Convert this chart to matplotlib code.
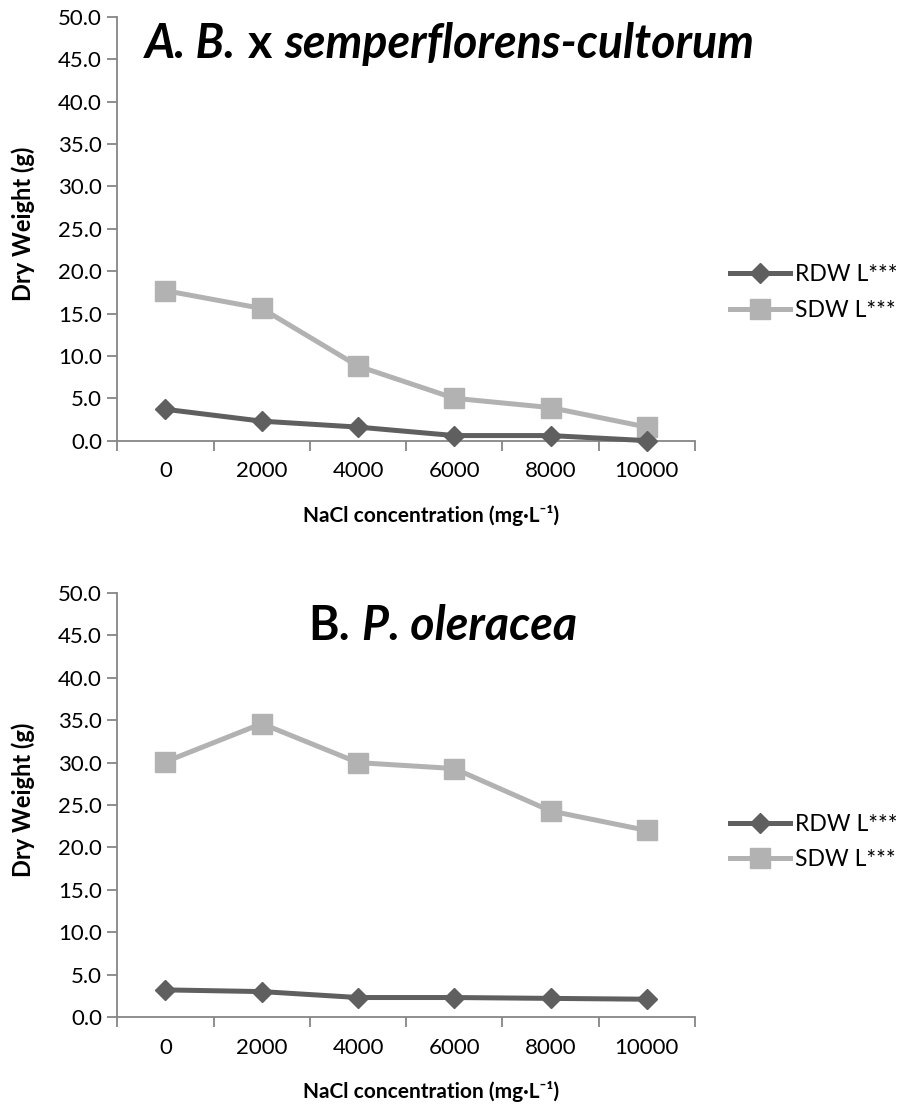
import matplotlib
matplotlib.use("Agg")
import matplotlib.pyplot as plt

plt.rcParams['font.family'] = ['Lato', 'DejaVu Sans']

categories = ['0', '2000', '4000', '6000', '8000', '10000']
rdw_a = [3.7, 2.3, 1.6, 0.6, 0.6, 0.0]
sdw_a = [17.7, 15.6, 8.8, 5.0, 3.9, 1.6]
rdw_b = [3.2, 3.0, 2.3, 2.3, 2.2, 2.1]
sdw_b = [30.1, 34.6, 30.0, 29.3, 24.3, 22.0]
yticks = [0, 5, 10, 15, 20, 25, 30, 35, 40, 45, 50]
legend_labels = ['RDW L***', 'SDW L***']
xlabel = 'NaCl concentration (mg·L⁻¹)'
ylabel = 'Dry Weight (g)'

W, H = 906, 1108
fig = plt.figure(figsize=(W / 100, H / 100), dpi=100)
renderer = fig.canvas.get_renderer()

spine_c = '#868686'
rdw_c = '#5f5f5f'
sdw_c = '#b2b2b2'
TITLE_FS = 33.5


def title_pieces(parts, x0, y0):
    xpx = x0 * W
    gap = 0.26 * TITLE_FS * 100 / 72
    for txt, style, wt in parts:
        t = fig.text(xpx / W, y0, txt, fontsize=TITLE_FS, fontweight=wt, fontstyle=style,
                     ha='left', va='baseline')
        bb = t.get_window_extent(renderer)
        xpx = bb.x1 + gap


def make_axes(rect, rdw, sdw, leg_y):
    ax = fig.add_axes(rect)
    x = list(range(len(categories)))
    l1, = ax.plot(x, rdw, color=rdw_c, lw=3.6, marker='D', ms=10, mec=rdw_c, mfc=rdw_c, zorder=3,
                  solid_joinstyle='round', clip_on=False)
    l2, = ax.plot(x, sdw, color=sdw_c, lw=3.6, marker='s', ms=14, mec=sdw_c, mfc=sdw_c, zorder=2,
                  solid_joinstyle='round', clip_on=False)
    ax.set_xlim(-0.5, len(categories) - 0.5)
    ax.set_ylim(0, 50)
    ax.set_yticks(yticks)
    ax.set_yticklabels([f'{v:.1f}' for v in yticks])
    ax.set_xticks(x)
    ax.set_xticklabels(categories)
    ax.set_xticks([i - 0.5 for i in range(len(categories) + 1)], minor=True)
    ax.tick_params(axis='x', which='major', length=0, pad=15, labelsize=16)
    ax.tick_params(axis='x', which='minor', length=7, width=1.3, color=spine_c, direction='out')
    ax.tick_params(axis='y', length=7, width=1.3, color=spine_c, labelsize=16, pad=4)
    for s in ['top', 'right']:
        ax.spines[s].set_visible(False)
    for s in ['left', 'bottom']:
        ax.spines[s].set_color(spine_c)
        ax.spines[s].set_linewidth(1.3)
    ax.set_ylabel(ylabel, fontsize=17, fontweight='bold')
    ax.yaxis.set_label_coords(-0.142, 0.512)
    ax.set_xlabel(xlabel, fontsize=15, fontweight='bold')
    ax.xaxis.set_label_coords(0.543, -0.152)
    ax.patch.set_alpha(0)
    fig.legend([l1, l2], legend_labels, loc='center left', bbox_to_anchor=(0.796, leg_y),
               frameon=False, fontsize=16.5, handlelength=2.6, handletextpad=0.2,
               labelspacing=0.62, borderaxespad=0)
    return ax


ax1 = make_axes([0.1295, 0.6023, 0.6376, 0.3824], rdw_a, sdw_a, 0.736)
ax2 = make_axes([0.1295, 0.0821, 0.6376, 0.3827], rdw_b, sdw_b, 0.2400)

title_pieces([('A. B.', 'italic', 'bold'), ('x', 'normal', 'bold'),
              ('semperflorens-cultorum', 'italic', 'bold')], 0.160, 0.9477)
title_pieces([('B.', 'normal', 'bold'), ('P. oleracea', 'italic', 'bold')], 0.340, 0.4224)

fig.savefig('out.png', dpi=100, facecolor='white')
